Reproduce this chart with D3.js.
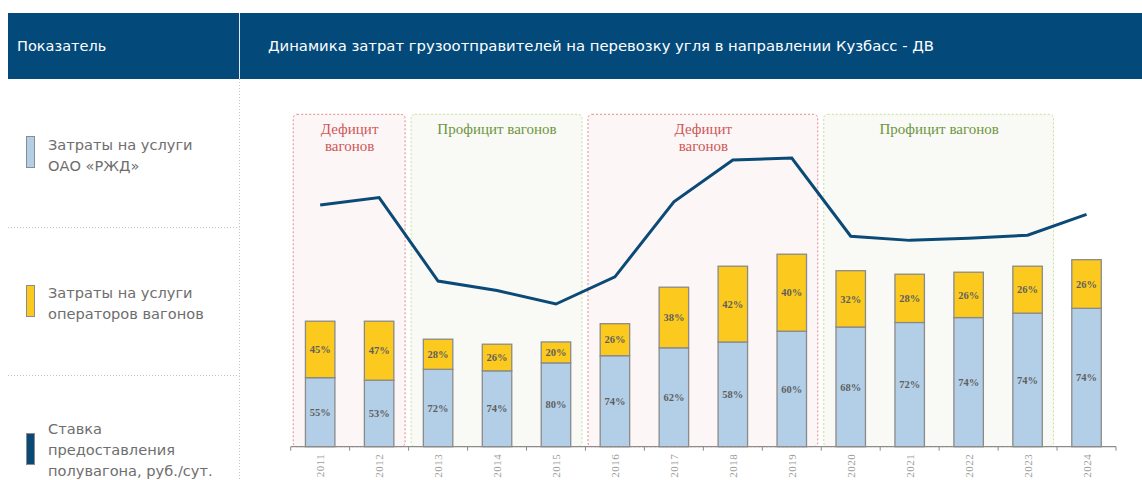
<!DOCTYPE html>
<html>
<head>
<meta charset="utf-8">
<script src="https://cdn.jsdelivr.net/npm/d3@7"></script>
<style>
  body { margin: 0; background: #fff; }
  svg text { font-family: "DejaVu Sans", sans-serif; }
</style>
</head>
<body>
<div id="container"></div>
<script>
// Data
const years = ["2011","2012","2013","2014","2015","2016","2017","2018","2019","2020","2021","2022","2023","2024"];
// total shipper costs (relative units)
const totalCost = [2510, 2510, 2150, 2050, 2095, 2460, 3190, 3610, 3850, 3520, 3450, 3490, 3610, 3740];
// shares, %
const rzdShare = [55, 53, 72, 74, 80, 74, 62, 58, 60, 68, 72, 74, 74, 74];
const operatorShare = [45, 47, 28, 26, 20, 26, 38, 42, 40, 32, 28, 26, 26, 26];
// gondola car rate, rub/day
const wagonRate = [1300, 1370, 570, 480, 350, 610, 1330, 1730, 1750, 1000, 960, 980, 1010, 1210];

const periods = [
  { from: "2011", to: "2012", label: ["Дефицит", "вагонов"], kind: "deficit" },
  { from: "2013", to: "2015", label: ["Профицит вагонов"], kind: "surplus" },
  { from: "2016", to: "2019", label: ["Дефицит", "вагонов"], kind: "deficit" },
  { from: "2020", to: "2023", label: ["Профицит вагонов"], kind: "surplus" }
];

const legendItems = [
  { lines: ["Затраты на услуги", "ОАО «РЖД»"], color: "#b3cfe8" },
  { lines: ["Затраты на услуги", "операторов вагонов"], color: "#fcca1e" },
  { lines: ["Ставка", "предоставления", "полувагона, руб./сут."], color: "#0b4a77" }
];

const W = 1142, H = 480;
const headerTop = 13, headerBottom = 79, divX = 239.5;

const svg = d3.select("#container").append("svg")
  .attr("width", W)
  .attr("height", H);

// Header band
svg.append("rect")
  .attr("x", 8).attr("y", headerTop)
  .attr("width", W - 8).attr("height", headerBottom - headerTop)
  .attr("fill", "#034a7b");

svg.append("line")
  .attr("x1", divX).attr("x2", divX)
  .attr("y1", headerTop).attr("y2", headerBottom)
  .attr("stroke", "#dfe8f0").attr("stroke-width", 1);

svg.append("text")
  .attr("x", 17).attr("y", 51)
  .attr("fill", "#fff")
  .attr("font-size", 14.5)
  .text("Показатель");

svg.append("text")
  .attr("x", 268).attr("y", 51)
  .attr("fill", "#fff")
  .attr("font-size", 14.8)
  .text("Динамика затрат грузоотправителей на перевозку угля в направлении Кузбасс - ДВ");

// Left column dividers
svg.append("line")
  .attr("x1", divX).attr("x2", divX)
  .attr("y1", headerBottom).attr("y2", H)
  .attr("stroke", "#c4c4c4").attr("stroke-dasharray", "1,2");

[227, 375].forEach(yy => {
  svg.append("line")
    .attr("x1", 8).attr("x2", divX)
    .attr("y1", yy + 0.5).attr("y2", yy + 0.5)
    .attr("stroke", "#c4c4c4").attr("stroke-dasharray", "1,2");
});

// Legend
const legendSwatchY = [136, 285, 433];
const legendTextY = [[150, 171], [297.5, 318.5], [434, 455, 476]];

const legend = svg.append("g").selectAll("g")
  .data(legendItems)
  .join("g");

legend.append("rect")
  .attr("x", 26.5)
  .attr("y", (d, i) => legendSwatchY[i] + 0.5)
  .attr("width", 8)
  .attr("height", 31)
  .attr("fill", d => d.color)
  .attr("stroke", "#8c8c8c")
  .attr("stroke-width", 1);

legend.each(function (d, i) {
  const g = d3.select(this);
  d.lines.forEach((line, j) => {
    g.append("text")
      .attr("x", 48)
      .attr("y", legendTextY[i][j])
      .attr("fill", "#6e6e6e")
      .attr("font-size", 14.6)
      .text(line);
  });
});

// Chart scales
const axisY = 446.7;

const x = d3.scaleBand()
  .domain(years)
  .range([290.7, 1116])
  .paddingInner(0.5)
  .paddingOuter(0.25);

const step = x.step();
const bandStart = d => x(d) - step * 0.25;

const yBar = d3.scaleLinear()
  .domain([0, 5000])
  .range([axisY, axisY - 250]);

const yRate = d3.scaleLinear()
  .domain([0, 2000])
  .range([340.5, 131.9]);

const chart = svg.append("g");

// Period boxes
const boxTop = 114.3;
const boxStyle = {
  deficit: { fill: "#fcf6f6", stroke: "#e58a8a", text: "#cf5656" },
  surplus: { fill: "#f9faf5", stroke: "#c9df93", text: "#6e9442" }
};

const boxes = chart.append("g").selectAll("g")
  .data(periods)
  .join("g");

boxes.append("rect")
  .attr("x", d => bandStart(d.from) + 2.5)
  .attr("y", boxTop)
  .attr("width", d => (bandStart(d.to) + step - 3.5) - (bandStart(d.from) + 2.5))
  .attr("height", axisY - boxTop)
  .attr("rx", 4)
  .attr("fill", d => boxStyle[d.kind].fill)
  .attr("stroke", d => boxStyle[d.kind].stroke)
  .attr("stroke-width", 1)
  .attr("stroke-dasharray", "2,2");

// Stacked bars
const stackData = years.map((yr, i) => {
  const rzd = totalCost[i] * rzdShare[i] / 100;
  return {
    year: yr,
    segments: [
      { key: "rzd", y0: 0, y1: rzd, share: rzdShare[i], color: "#b3cfe8" },
      { key: "op", y0: rzd, y1: totalCost[i], share: operatorShare[i], color: "#fcca1e" }
    ]
  };
});

const barGroups = chart.append("g").selectAll("g")
  .data(stackData)
  .join("g");

barGroups.selectAll("rect")
  .data(d => d.segments.map(s => ({ ...s, year: d.year })))
  .join("rect")
  .attr("x", d => x(d.year))
  .attr("y", d => yBar(d.y1))
  .attr("width", x.bandwidth())
  .attr("height", d => yBar(d.y0) - yBar(d.y1))
  .attr("fill", d => d.color)
  .attr("stroke", "#8a8a8a")
  .attr("stroke-width", 1.3);

barGroups.selectAll("text")
  .data(d => d.segments.map(s => ({ ...s, year: d.year })))
  .join("text")
  .attr("x", d => x(d.year) + x.bandwidth() / 2)
  .attr("y", d => (yBar(d.y0) + yBar(d.y1)) / 2)
  .attr("dy", "0.35em")
  .attr("text-anchor", "middle")
  .attr("font-size", 10.5)
  .attr("font-weight", "bold")
  .style("font-family", "'Liberation Serif', serif")
  .attr("fill", "#5f5f5f")
  .text(d => d.share + "%");

// Period titles
boxes.each(function (d) {
  const g = d3.select(this);
  const cx = (bandStart(d.from) + bandStart(d.to) + step) / 2;
  d.label.forEach((line, j) => {
    g.append("text")
      .attr("x", cx)
      .attr("y", 134 + j * 16.5)
      .attr("text-anchor", "middle")
      .attr("font-size", 15)
      .style("font-family", "'Liberation Serif', serif")
      .attr("fill", boxStyle[d.kind].text)
      .text(line);
  });
});

// Axis
const axisG = chart.append("g");
axisG.append("line")
  .attr("x1", bandStart(years[0])).attr("x2", bandStart(years[years.length - 1]) + step)
  .attr("y1", axisY).attr("y2", axisY)
  .attr("stroke", "#8c8c8c").attr("stroke-width", 1.2);

const tickPos = years.map(bandStart).concat([bandStart(years[years.length - 1]) + step]);
axisG.selectAll("line.tick")
  .data(tickPos)
  .join("line")
  .attr("class", "tick")
  .attr("x1", d => d).attr("x2", d => d)
  .attr("y1", axisY).attr("y2", axisY + 4)
  .attr("stroke", "#8c8c8c");

axisG.selectAll("text")
  .data(years)
  .join("text")
  .attr("transform", d => `translate(${x(d) + x.bandwidth() / 2 + 4},${axisY + 7}) rotate(-90)`)
  .attr("text-anchor", "end")
  .attr("font-size", 11)
  .style("font-family", "'Liberation Serif', serif")
  .attr("letter-spacing", 0.5)
  .attr("fill", "#9c9c9c")
  .text(d => d);

// Rate line
const line = d3.line()
  .x((d, i) => x(years[i]) + x.bandwidth() / 2)
  .y(d => yRate(d));

chart.append("path")
  .datum(wagonRate)
  .attr("d", line)
  .attr("fill", "none")
  .attr("stroke", "#0b4a77")
  .attr("stroke-width", 3);
</script>
</body>
</html>
